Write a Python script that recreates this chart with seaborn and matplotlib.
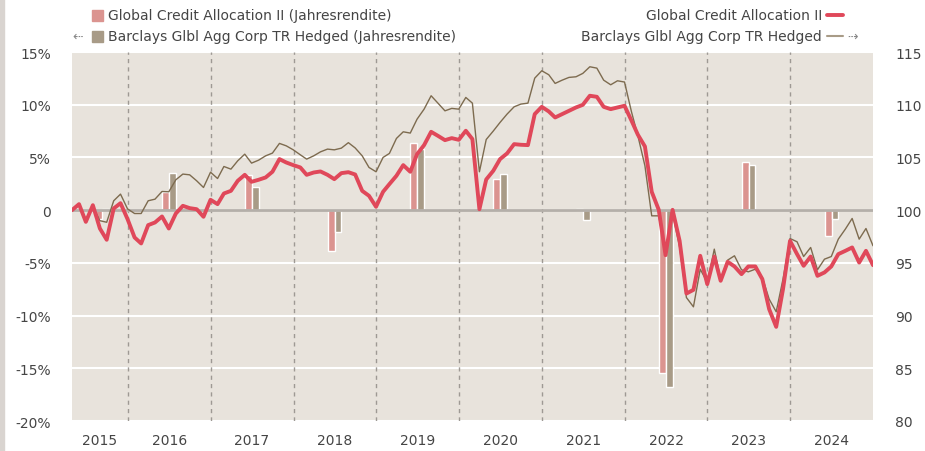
import matplotlib
matplotlib.use("Agg")
import matplotlib.pyplot as plt
from matplotlib.patches import Rectangle
from matplotlib.lines import Line2D
import pandas as pd
import seaborn as sns

# month-end values, index 100 = end of April 2015
months = pd.date_range("2015-04-30", "2024-12-31", freq="ME")

gca_index = [
    100.00, 100.57, 98.89, 100.47, 98.26, 97.19, 100.16, 100.66, 99.15,
    97.41, 96.84, 98.58, 98.83, 99.40, 98.26, 99.68, 100.41, 100.19, 100.09, 99.37, 100.98,
    100.57, 101.58, 101.83, 102.78, 103.35, 102.69, 102.88, 103.10, 103.64, 104.84, 104.52, 104.27,
    104.05, 103.35, 103.57, 103.67, 103.35, 102.94, 103.51, 103.60, 103.38, 101.83, 101.36, 100.32,
    101.74, 102.47, 103.26, 104.27, 103.64, 105.31, 106.17, 107.43, 107.05, 106.64, 106.83, 106.67,
    107.53, 106.74, 100.09, 102.91, 103.73, 104.84, 105.38, 106.26, 106.20, 106.17, 109.11, 109.80,
    109.36, 108.79, 109.11, 109.42, 109.74, 109.99, 110.85, 110.75, 109.80, 109.58, 109.74, 109.90,
    108.48, 107.15, 106.04, 101.74, 100.03, 95.73, 100.03, 97.09, 92.09, 92.44, 95.67, 92.98,
    95.60, 93.30, 95.10, 94.66, 93.93, 94.66, 94.66, 93.45, 90.61, 88.93, 92.50, 97.09,
    95.83, 94.72, 95.60, 93.77, 94.09, 94.66, 95.83, 96.14, 96.46, 95.03, 96.14, 94.78,
]

bbg_index = [
    100.00, 100.45, 99.10, 100.35, 99.00, 98.85, 100.89, 101.52, 100.12,
    99.68, 99.68, 100.89, 101.04, 101.77, 101.74, 102.88, 103.42, 103.35, 102.78, 102.15, 103.60,
    103.00, 104.14, 103.89, 104.68, 105.31, 104.46, 104.74, 105.15, 105.41, 106.33, 106.10, 105.72,
    105.25, 104.84, 105.15, 105.53, 105.79, 105.72, 105.88, 106.40, 105.90, 105.15, 104.05, 103.64,
    105.00, 105.38, 106.80, 107.43, 107.31, 108.63, 109.58, 110.85, 110.15, 109.42, 109.65, 109.58,
    110.69, 110.15, 103.64, 106.70, 107.50, 108.32, 109.11, 109.80, 110.06, 110.15, 112.52, 113.22,
    112.84, 112.02, 112.33, 112.59, 112.65, 112.97, 113.60, 113.47, 112.33, 111.89, 112.27, 112.15,
    109.30, 107.05, 104.21, 99.46, 99.46, 96.00, 99.70, 96.50, 91.71, 90.83, 94.40, 93.14,
    96.30, 93.45, 95.26, 95.67, 94.34, 94.15, 94.40, 93.61, 91.56, 90.36, 93.45, 97.31,
    97.00, 95.60, 96.46, 94.34, 95.35, 95.60, 97.25, 98.20, 99.21, 97.25, 98.26, 96.62,
]

# calendar-year returns in %
years = [2015, 2016, 2017, 2018, 2019, 2020, 2021, 2022, 2023, 2024]
bar_dates = pd.to_datetime(["2015-09-10", "2016-07-01", "2017-07-01", "2018-07-01", "2019-07-01",
                            "2020-07-01", "2021-07-01", "2022-07-01", "2023-07-01", "2024-07-01"])
gca_ret = [-0.85, 1.68, 3.35, -3.86, 6.36, 2.94, 0.15, -15.40, 4.55, -2.44]
bbg_ret = [0.15, 3.50, 2.18, -2.06, 5.79, 3.42, -0.92, -16.76, 4.27, -0.82]

left_ticks = [15, 10, 5, 0, -5, -10, -15, -20]
right_ticks = [115, 110, 105, 100, 95, 90, 85, 80]

gca_label = "Global Credit Allocation II"
bbg_label = "Barclays Glbl Agg Corp TR Hedged"

RED = "#e0485a"
PINK = "#db9490"
TAUPE = "#a89b87"
BROWN = "#7d6b4f"
BG = "#e8e3dc"
TXT = "#454545"

sns.set_style("white")
plt.rcParams["font.family"] = ["DejaVu Sans"]
plt.rcParams["font.size"] = 10

W, H = 925, 452
fig = plt.figure(figsize=(W / 100, H / 100), dpi=100)
ax = fig.add_axes([72 / W, 1 - 422 / H, 801 / W, 369 / H])
ax.set_facecolor(BG)
ax2 = ax.twinx()

# annual return bars on the left axis
ax.bar(bar_dates - pd.Timedelta(days=30), gca_ret, width=30, align="edge", color=PINK, zorder=2)
ax.bar(bar_dates, bbg_ret, width=30, align="edge", color=TAUPE, zorder=2)
ax.axhline(0, color="#b4afa9", lw=2, zorder=3)
ax.set_ylim(-20, 15)
ax.set_yticks(left_ticks)
ax.set_yticklabels([f"{t}%" if t != 0 else "0" for t in left_ticks])
ax.yaxis.grid(True, color="white", lw=1.5)
ax.set_axisbelow(True)

for y in years[1:]:
    ax.axvline(pd.Timestamp(f"{y}-01-01"), color="#9e9994", lw=1, ls=(0, (3, 3)), zorder=1)

# index lines on the right axis
sns.lineplot(x=months, y=bbg_index, ax=ax2, color=BROWN, linewidth=1, zorder=4)
sns.lineplot(x=months, y=gca_index, ax=ax2, color=RED, linewidth=2.8, zorder=5)
ax2.set_ylim(80, 115)
ax2.set_yticks(right_ticks)
ax2.set_ylabel("")
ax2.set_xlabel("")

ax.set_xlim(months[0], months[-1])
mids = []
for y in years:
    a = max(pd.Timestamp(f"{y}-01-01"), months[0])
    b = min(pd.Timestamp(f"{y}-12-31"), months[-1])
    mids.append(a + (b - a) / 2)
ax.set_xticks(mids)
ax.set_xticklabels([str(y) for y in years])

ax.tick_params(axis="y", length=0, pad=15, labelcolor=TXT, labelsize=10)
ax.tick_params(axis="x", length=0, pad=9, labelcolor=TXT, labelsize=10)
ax2.tick_params(axis="y", length=0, pad=16, labelcolor=TXT, labelsize=10)
for a in (ax, ax2):
    for s in a.spines.values():
        s.set_visible(False)

# legend drawn by hand in figure pixels
def fx(px):
    return px / W

def fy(py):
    return 1 - py / H

fig.add_artist(Rectangle((fx(92), fy(22)), 11 / W, 11 / H, color=PINK, transform=fig.transFigure))
fig.add_artist(Rectangle((fx(92), fy(43)), 11 / W, 11 / H, color=TAUPE, transform=fig.transFigure))
fig.text(fx(108), fy(16), gca_label + " (Jahresrendite)", color=TXT, va="center", ha="left")
fig.text(fx(108), fy(37), bbg_label + " (Jahresrendite)", color=TXT, va="center", ha="left")
fig.text(fx(78), fy(37), "\u21e0", color="#888888", va="center", ha="center", fontsize=9)

fig.text(fx(822), fy(16), gca_label, color=TXT, va="center", ha="right")
fig.text(fx(822), fy(37), bbg_label, color=TXT, va="center", ha="right")
fig.add_artist(Line2D([fx(827), fx(843)], [fy(16), fy(16)], color=RED, lw=2.8, transform=fig.transFigure))
fig.add_artist(Line2D([fx(827), fx(843)], [fy(37), fy(37)], color=TAUPE, lw=1.5, transform=fig.transFigure))
fig.text(fx(853), fy(37), "\u21e2", color="#888888", va="center", ha="center", fontsize=9)

# thin grey strip on the left border
fig.add_artist(Rectangle((0, 0), 4 / W, 1, color="#d9d4d0", transform=fig.transFigure))

fig.savefig("out.png", dpi=100, facecolor="white")
